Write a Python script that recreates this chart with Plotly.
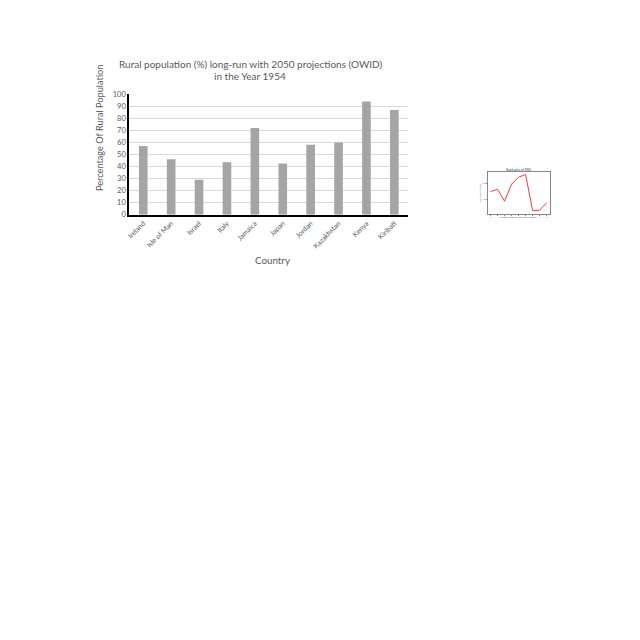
import plotly.graph_objects as go

countries = ["Ireland", "Isle of Man", "Israel", "Italy", "Jamaica", "Japan",
             "Jordan", "Kazakhstan", "Kenya", "Kiribati"]
rural_pct = [57, 46, 29, 43.5, 72, 42.5, 58, 60, 94, 87]

inset_days = [0, 1, 2, 3, 4, 5, 6, 7, 8]
inset_price = [75, 82, 45, 98, 120, 128, 15, 17, 40]

W = H = 640
def px(x): return x / W
def py(y): return 1 - y / H

grey = "#595959"
font = "Lato"

fig = go.Figure()
fig.add_trace(go.Bar(x=countries, y=rural_pct, marker_color="#a5a5a5",
                     marker_line_width=0, xaxis="x", yaxis="y", showlegend=False))
fig.add_trace(go.Scatter(x=inset_days, y=inset_price, mode="lines",
                         line=dict(color="#e8413c", width=1), xaxis="x2", yaxis="y2",
                         showlegend=False))

def ann(text, x, y, size, color=grey, angle=0):
    return dict(text=text, x=px(x), y=py(y), xref="paper", yref="paper",
                showarrow=False, xanchor="center", yanchor="middle",
                textangle=angle, font=dict(size=size, color=color, family=font))

fig.update_layout(
    width=W, height=H, margin=dict(l=0, r=0, t=0, b=0),
    paper_bgcolor="white", plot_bgcolor="white",
    bargap=0.69,
    font=dict(family=font, color=grey),
    xaxis=dict(domain=[px(129.3), px(408.3)], anchor="y",
               showline=True, linecolor="black", linewidth=2,
               tickangle=-45, tickfont=dict(size=7, color=grey),
               ticks="", showgrid=False, automargin=False),
    yaxis=dict(domain=[py(214.7), py(94.3)], anchor="x", range=[0, 100],
               dtick=10, showline=True, linecolor="black", linewidth=2,
               gridcolor="#d9d9d9", gridwidth=1, zeroline=False,
               tickfont=dict(size=7.5, color=grey), ticks="", automargin=False),
    xaxis2=dict(domain=[px(487.7), px(549.5)], anchor="y2", range=[-0.4, 8.4],
                showline=True, mirror=True, linecolor="#888", linewidth=0.5,
                showgrid=False, zeroline=False, ticks="outside", ticklen=1,
                tickcolor="#888", tickfont=dict(size=2, color="#777"), dtick=1,
                automargin=False),
    yaxis2=dict(domain=[py(214), py(172.3)], anchor="x2", range=[5, 135],
                showline=True, mirror=True, linecolor="#888", linewidth=0.5,
                showgrid=False, zeroline=False, ticks="outside", ticklen=1,
                tickcolor="#888", tickfont=dict(size=2, color="#777"),
                automargin=False),
    annotations=[
        ann("Rural population (%) long-run with 2050 projections (OWID)", 250, 63.5, 10),
        ann("in the Year 1954", 250, 76.5, 10),
        ann("Percentage Of Rural Population", 100, 128, 9.2, angle=-90),
        ann("Country", 272, 260, 9.8),
        ann("Stock price of MSS", 518.5, 169.5, 3, color="#333"),
        ann("Number of Days After 2017-05-01", 518.5, 218, 2.5, color="#555"),
        ann("MSS Price (USD)", 480.5, 193, 2.5, color="#555", angle=-90),
    ],
)

fig.write_html("out.html")
